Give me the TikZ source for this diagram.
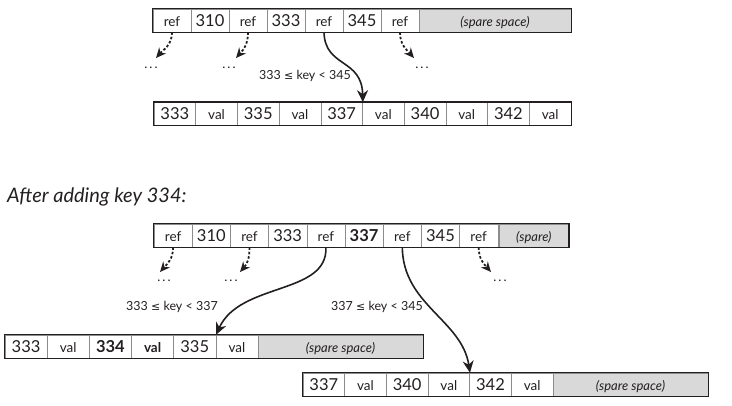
\documentclass[tikz,border=0pt]{standalone}
\usepackage{fontspec}
\setmainfont{Lato}
\newfontfamily\symfont{DejaVu Sans}
\newcommand{\lesym}{{\symfont\fontsize{11}{12}\selectfont ≤}}
\newcommand{\spdots}{.\kern2pt.\kern2pt.}
\usetikzlibrary{arrows.meta}
\definecolor{ink}{HTML}{231F20}
\definecolor{sparefill}{HTML}{D9D9D9}
\definecolor{sepline}{HTML}{8C8C8C}
\tikzset{
  cell/.style={draw=sepline, line width=0.6pt, minimum height=23pt, inner sep=0pt,
    text=ink, text height=11.5pt, text depth=0pt, anchor=center},
  num/.style={cell, font=\fontsize{16.5}{17}\selectfont},
  numb/.style={cell, font=\fontsize{16.5}{17}\selectfont\bfseries},
  word/.style={cell, font=\fontsize{13.5}{14}\selectfont},
  wordb/.style={cell, font=\fontsize{13.5}{14}\selectfont\bfseries},
  sparecell/.style={cell, fill=sparefill, font=\fontsize{13}{14}\selectfont\itshape},
  frame/.style={draw=ink, line width=1.4pt},
  ptr/.style={draw=ink, line width=1.6pt, -{Stealth[length=12pt,width=11pt]}},
  dptr/.style={draw=ink, line width=1.8pt, dash pattern=on 2.5pt off 2pt, -{Stealth[length=10pt,width=9pt]}},
  lbl/.style={text=ink, font=\fontsize{12.5}{14}\selectfont, inner sep=0pt},
  dots/.style={text=ink, font=\fontsize{13}{14}\selectfont, inner sep=0pt},
  title/.style={text=ink, font=\fontsize{20}{22}\selectfont\itshape, inner sep=0pt, anchor=west},
}
\begin{document}
\begin{tikzpicture}[x=1pt,y=-1pt]
\path[use as bounding box] (0,0) rectangle (732,406);

% ---- top: internal node ----
\foreach \s/\t [count=\i] in {word/ref,num/310,word/ref,num/333,word/ref,num/345,word/ref}
  \node[\s, minimum width=38pt] (t\i) at ({153+(\i-0.5)*38},20.5) {\t};
\node[sparecell, minimum width=152pt] (tsp) at (495,20.5) {(spare space)};
\draw[frame] (t1.north west) rectangle (tsp.south east);

% ---- leaf ----
\foreach \s/\t [count=\i] in {num/333,word/val,num/335,word/val,num/337,word/val,num/340,word/val,num/342,word/val}
  \node[\s, minimum width=41.7pt] (r\i) at ({154+(\i-0.5)*41.7},114) {\t};
\draw[frame] (r1.north west) rectangle (r10.south east);

% top arrows
\coordinate (d1) at (156,58);
\coordinate (d2) at (236,58);
\coordinate (d3) at (414,58);
\draw[dptr] (t1.south) .. controls +(0,13) and +(7,-8) .. (d1);
\draw[dptr] (t3.south) .. controls +(0,13) and +(7,-8) .. (d2);
\draw[dptr] (t7.south) .. controls +(0,13) and +(-7,-8) .. (d3);
\node[dots] (e1) at (151,68) {\spdots};
\node[dots] (e2) at (229,68) {\spdots};
\node[dots] (e3) at (422,68) {\spdots};
\draw[ptr] (t5.south) .. controls (325,68) and (362,58) .. (r5.north east);
\node[lbl] (k1) at (305,76) {333 \lesym{} key < 345};

% ---- title ----
\node[title] (hd) at (7,197) {After adding key 334:};

% ---- bottom: internal node ----
\foreach \s/\t [count=\i] in {word/ref,num/310,word/ref,num/333,word/ref,numb/337,word/ref,num/345,word/ref}
  \node[\s, minimum width=38.2pt] (s\i) at ({154+(\i-0.5)*38.2},235.5) {\t};
\node[sparecell, minimum width=70pt] (ssp) at (533.8,235.5) {(spare)};
\draw[frame] (s1.north west) rectangle (ssp.south east);

% ---- bottom-left leaf ----
\foreach \s/\t [count=\i] in {num/333,word/val,numb/334,wordb/val,num/335,word/val}
  \node[\s, minimum width=42.17pt] (a\i) at ({5+(\i-0.5)*42.17},346.5) {\t};
\node[sparecell, minimum width=165pt] (asp) at (340.5,346.5) {(spare space)};
\draw[frame] (a1.north west) rectangle (asp.south east);

% ---- bottom-right leaf ----
\foreach \s/\t [count=\i] in {num/337,word/val,num/340,word/val,num/342,word/val}
  \node[\s, minimum width=41.67pt] (b\i) at ({303+(\i-0.5)*41.67},384.5) {\t};
\node[sparecell, minimum width=155pt] (bsp) at (630.5,384.5) {(spare space)};
\draw[frame] (b1.north west) rectangle (bsp.south east);

% bottom arrows
\coordinate (f1) at (160,272);
\coordinate (f2) at (240,272);
\coordinate (f3) at (491,272);
\draw[dptr] (s1.south) .. controls +(0,12) and +(7,-8) .. (f1);
\draw[dptr] (s3.south) .. controls +(0,12) and +(7,-8) .. (f2);
\draw[dptr] (s9.south) .. controls +(0,12) and +(-7,-8) .. (f3);
\node[dots] (g1) at (164,281) {\spdots};
\node[dots] (g2) at (231,281) {\spdots};
\node[dots] (g3) at (500,281) {\spdots};
\draw[ptr] (s5.south) .. controls (328,295) and (240,282) .. (a5.north east);
\draw[ptr] (s7.south) .. controls (403,305) and (462,320) .. (b4.north east);
\node[lbl] (k2) at (172,307) {333 \lesym{} key < 337};
\node[lbl] (k3) at (377,307) {337 \lesym{} key < 345};
\end{tikzpicture}
\end{document}
